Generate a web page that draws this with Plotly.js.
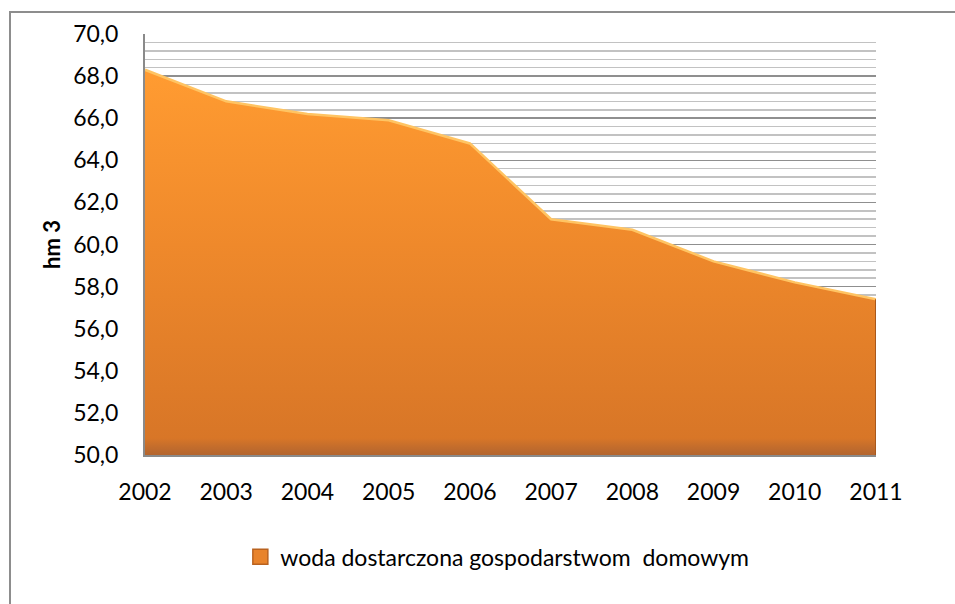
<!DOCTYPE html>
<html>
<head>
<meta charset="utf-8">
<script src="https://cdn.plot.ly/plotly-3.0.1.min.js"></script>
<style>
  html, body { margin: 0; padding: 0; background: #ffffff; overflow: hidden; }
  #chart { position: absolute; left: 0; top: 0; width: 955px; height: 604px; }
  #frame { position: absolute; left: 9px; top: 11px; width: 1000px; height: 700px;
           border-left: 2px solid #8d8d8d; border-top: 2px solid #8d8d8d; pointer-events: none; }
</style>
</head>
<body>
<div id="chart"></div>
<div id="frame"></div>
<script>
const years = [2002, 2003, 2004, 2005, 2006, 2007, 2008, 2009, 2010, 2011];
const values = [68.3, 66.8, 66.2, 65.9, 64.8, 61.2, 60.7, 59.2, 58.2, 57.4];
const seriesName = 'woda dostarczona gospodarstwom\u00a0 domowym';
const yTickVals = [50, 52, 54, 56, 58, 60, 62, 64, 66, 68, 70];
const yTickText = ['50,0', '52,0', '54,0', '56,0', '58,0', '60,0', '62,0', '64,0', '66,0', '68,0', '70,0'];
const yTitle = 'hm 3';

const FONT = 'Lato, "Open Sans", sans-serif';

const lastX = years[years.length - 1];
const lastY = values[values.length - 1];

const traces = [
  {
    type: 'scatter',
    mode: 'lines',
    x: years,
    y: values,
    fill: 'tozeroy',
    fillcolor: '#F08A2C',
    fillgradient: {
      type: 'vertical',
      start: 50,
      stop: 70,
      colorscale: [
        [0, '#B3652E'],
        [0.02, '#C46D2C'],
        [0.04, '#D87627'],
        [0.5, '#EF892B'],
        [0.9, '#FF9B31'],
        [1, '#FFA036']
      ]
    },
    line: { color: '#FFC463', width: 2.5, shape: 'linear' },
    showlegend: false,
    hoverinfo: 'x+y'
  },
  {
    type: 'scatter',
    mode: 'lines',
    x: [lastX, lastX],
    y: [yTickVals[0], lastY],
    line: { color: '#A8581C', width: 2 },
    showlegend: false,
    hoverinfo: 'skip'
  },
  {
    type: 'scatter',
    mode: 'markers',
    x: [null],
    y: [null],
    name: seriesName,
    marker: { symbol: 'square', size: 15, color: '#E8832B', line: { color: '#B9621F', width: 1.5 } },
    showlegend: true
  }
];

const layout = {
  width: 955,
  height: 604,
  margin: { l: 145, r: 79, t: 34, b: 149 },
  paper_bgcolor: 'rgba(0,0,0,0)',
  plot_bgcolor: '#ffffff',
  font: { family: FONT, color: '#000000', size: 23 },
  showlegend: true,
  legend: {
    orientation: 'h',
    x: 0.482,
    xanchor: 'center',
    y: -0.242,
    yanchor: 'middle',
    font: { family: FONT, size: 23, color: '#000000' },
    bgcolor: 'rgba(0,0,0,0)'
  },
  xaxis: {
    type: 'linear',
    range: [years[0], lastX],
    tickvals: years,
    ticktext: years.map(String),
    showgrid: false,
    zeroline: false,
    showline: true,
    linecolor: '#8a8a8a',
    linewidth: 2,
    ticks: '',
    ticklabelstandoff: 15,
    tickfont: { family: FONT, size: 23, color: '#000000' },
    fixedrange: true
  },
  yaxis: {
    range: [50, 70],
    tickvals: yTickVals,
    ticktext: yTickText,
    showgrid: true,
    gridcolor: '#8f8f8f',
    gridwidth: 1.5,
    minor: { dtick: 0.4, tick0: 0, showgrid: true, gridcolor: '#c2c2c2', gridwidth: 1.5 },
    zeroline: false,
    showline: true,
    linecolor: '#8a8a8a',
    linewidth: 2,
    ticks: '',
    ticklabelstandoff: 20,
    tickfont: { family: FONT, size: 23, color: '#000000' },
    title: { text: yTitle, font: { family: FONT, size: 22, color: '#000000', weight: 'bold' }, standoff: 6 },
    fixedrange: true
  }
};

Plotly.newPlot('chart', traces, layout, { displayModeBar: false, staticPlot: true });
</script>
</body>
</html>
